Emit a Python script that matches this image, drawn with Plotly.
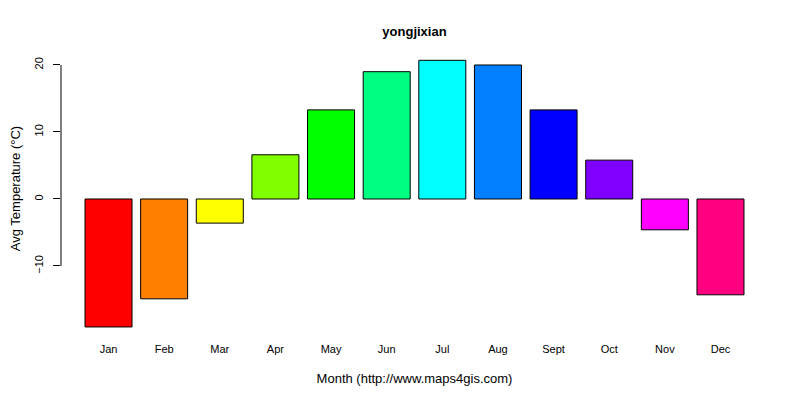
import plotly.graph_objects as go

months = ["Jan", "Feb", "Mar", "Apr", "May", "Jun", "Jul", "Aug", "Sept", "Oct", "Nov", "Dec"]
temps = [-19.1, -14.9, -3.6, 6.6, 13.3, 19.0, 20.7, 20.0, 13.3, 5.8, -4.6, -14.3]
colors = ["#FF0000", "#FF8000", "#FFFF00", "#80FF00", "#00FF00", "#00FF80",
          "#00FFFF", "#0080FF", "#0000FF", "#8000FF", "#FF00FF", "#FF0080"]
yticks = [-10, 0, 10, 20]

pos = list(range(len(months)))

fig = go.Figure(go.Bar(
    x=pos, y=temps, width=0.845,
    marker=dict(color=colors, line=dict(color="black", width=1)),
))

# R-style y axis line spanning only the tick range
fig.add_shape(type="line", xref="paper", yref="y", x0=0, x1=0,
              y0=min(yticks), y1=max(yticks), line=dict(color="black", width=1))

fig.update_layout(
    width=800, height=400,
    margin=dict(l=53, r=40, t=33, b=72),
    plot_bgcolor="white", paper_bgcolor="white",
    font=dict(family="Liberation Sans, Arial", size=11, color="black"),
    title=dict(text="<b>yongjixian</b>", x=0.5, xref="paper", y=0.942, yanchor="middle",
               font=dict(size=13)),
    showlegend=False,
)
fig.update_xaxes(
    tickvals=pos, ticktext=months, range=[-0.854, 11.854], automargin=False,
    showgrid=False, zeroline=False, showline=False, ticks="", ticklabelstandoff=5,
    title=dict(text="Month (http://www.maps4gis.com)", standoff=19),
)
fig.update_yaxes(
    tickvals=yticks, range=[-20.45, 23.58], tickangle=-90, automargin=False,
    showgrid=False, zeroline=False, showline=False, ticklabelstandoff=6,
    ticks="outside", ticklen=7, tickcolor="black",
    title=dict(text="Avg Temperature (°C)", standoff=14),
)

fig.write_html("out.html")
